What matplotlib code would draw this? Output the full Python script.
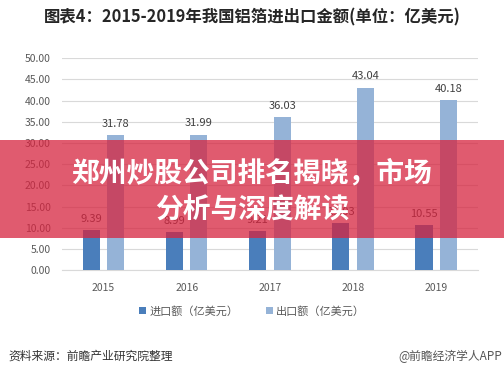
import matplotlib
matplotlib.use("Agg")
import matplotlib.pyplot as plt
from matplotlib.patches import Rectangle
import numpy as np

plt.rcParams['font.family'] = ['Noto Sans CJK SC', 'DejaVu Sans']

years = ['2015', '2016', '2017', '2018', '2019']
imports = [9.39, 8.99, 9.21, 11.03, 10.55]
exports = [31.78, 31.99, 36.03, 43.04, 40.18]
yticks = [0, 5, 10, 15, 20, 25, 30, 35, 40, 45, 50]

title = '图表4：2015-2019年我国铝箔进出口金额(单位：亿美元)'
banner1 = '郑州炒股公司排名揭晓，市场'
banner2 = '分析与深度解读'
src = '资料来源：前瞻产业研究院整理'
brand = '@前瞻经济学人APP'
lab_imp = '进口额（亿美元）'
lab_exp = '出口额（亿美元）'

c_imp = '#4a7ebb'
c_exp = '#95b3d7'

fig = plt.figure(figsize=(5.04, 3.78), dpi=100)
ax = fig.add_axes([0.123, 0.2857, 0.825, 0.56])

x = np.arange(len(years))
w = 0.205
off = 0.147
b1 = ax.bar(x - off, imports, w, color=c_imp, zorder=3)
b2 = ax.bar(x + off, exports, w, color=c_exp, zorder=3)

for xi, v in zip(x - off, imports):
    ax.text(xi, v + 1.5, f'{v:.2f}', ha='center', va='bottom', fontsize=8, color='#404040')
for xi, v in zip(x + off, exports):
    ax.text(xi, v + 1.5, f'{v:.2f}', ha='center', va='bottom', fontsize=8, color='#404040')

ax.set_ylim(0, 50)
ax.set_xlim(-0.5, len(years) - 0.5)
ax.set_yticks(yticks)
ax.set_yticklabels([f'{t:.2f}' for t in yticks], fontsize=7.5, color='#595959')
ax.set_xticks(x)
ax.set_xticklabels(years, fontsize=7.5, color='#595959')
ax.tick_params(length=0, pad=8)
ax.tick_params(axis='x', pad=9)
ax.grid(axis='y', color='#d9d9d9', linewidth=0.8, zorder=0)
for s in ['top', 'right', 'left']:
    ax.spines[s].set_visible(False)
ax.spines['bottom'].set_color('#d9d9d9')

leg = fig.legend([b1, b2], [lab_imp, lab_exp], loc='center', bbox_to_anchor=(0.5, 1 - 311 / 378),
                 ncol=2, frameon=False, fontsize=8, handlelength=0.6, handleheight=0.6,
                 columnspacing=2.5, handletextpad=0.3)
for t in leg.get_texts():
    t.set_color('#595959')

fig.text(0.5, 1 - 17 / 378, title, ha='center', va='center', fontsize=11.8, fontweight='bold', color='#262626')
fig.text(8 / 504, 1 - 356 / 378, src, ha='left', va='center', fontsize=8.5, color='#333333')
fig.text(502 / 504, 1 - 356 / 378, brand, ha='right', va='center', fontsize=8.5, color='#555555')

fig.patches.append(Rectangle((0, 1 - 238 / 378), 1, 98 / 378, transform=fig.transFigure,
                             facecolor='#d6243f', alpha=0.75, edgecolor='none', zorder=10))
fig.text(0.5, 1 - 173 / 378, banner1, ha='center', va='center', fontsize=20, fontweight='heavy',
         color='white', zorder=11)
fig.text(0.5, 1 - 210 / 378, banner2, ha='center', va='center', fontsize=20, fontweight='heavy',
         color='white', zorder=11)

fig.savefig('out.png', dpi=100, facecolor='white')
